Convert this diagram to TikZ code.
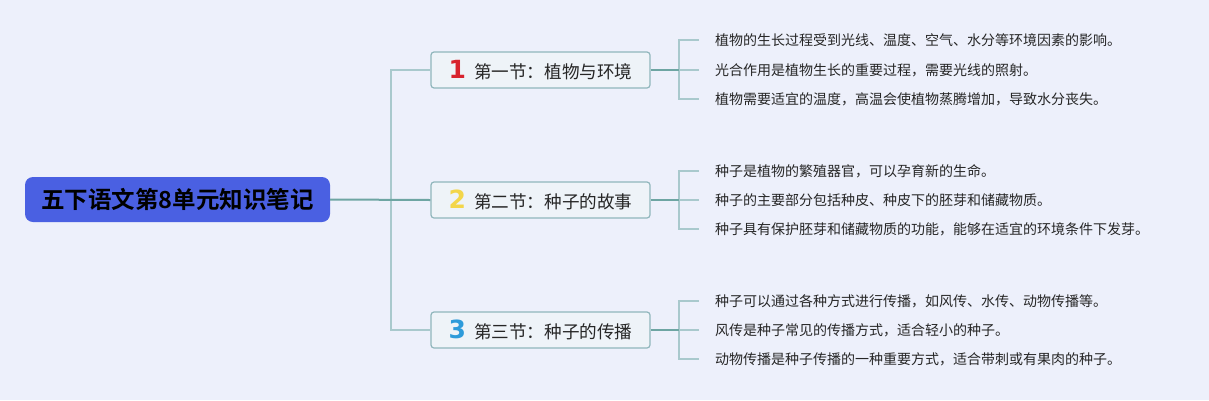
\documentclass[tikz,border=0pt]{standalone}
\usepackage{fontspec}
\newfontfamily\cjk{Noto Sans CJK SC}[BoldFont={Noto Sans CJK SC Bold}]
\newfontfamily\numfont{DejaVu Sans}
\definecolor{bgcol}{HTML}{EDF0FB}
\definecolor{rootcol}{HTML}{4A60E2}
\definecolor{boxcol}{HTML}{EEF3F8}
\definecolor{boxline}{HTML}{90B6BC}
\definecolor{linedark}{HTML}{6EA5A3}
\definecolor{linelight}{HTML}{A9C9CD}
\definecolor{numred}{HTML}{D8232E}
\definecolor{numyellow}{HTML}{F3D64A}
\definecolor{numblue}{HTML}{2E9BDA}
\tikzset{
  rootbox/.style={rectangle,rounded corners=8pt,fill=rootcol,minimum width=305pt,minimum height=45pt,font=\cjk\bfseries\fontsize{23.5}{26}\selectfont},
  secbox/.style={rectangle,rounded corners=3pt,draw=boxline,line width=1.2pt,fill=boxcol,minimum width=219pt,minimum height=36pt,font=\cjk\fontsize{17.6}{20}\selectfont,text=black!85},
  leaf/.style={anchor=west,inner xsep=0pt,font=\cjk\fontsize{14}{16}\selectfont,text=black!85},
  main/.style={linedark,line width=2pt},
  side/.style={linelight,line width=1.8pt},
}
\newcommand{\secnum}[2]{{\numfont\bfseries\fontsize{25}{25}\selectfont\color{#1}#2}\hspace{8pt}}
\begin{document}
\begin{tikzpicture}[x=1pt,y=-1pt]
\fill[bgcol] (0,0) rectangle (1209,400);
\useasboundingbox (0,0) rectangle (1209,400);

\node[rootbox] (root) at (177.5,199.5) {五下语文第8单元知识笔记};

\node[secbox] (s1) at (540.5,70) {\secnum{numred}{1}第一节：植物与环境};
\node[secbox] (s2) at (540.5,200) {\secnum{numyellow}{2}第二节：种子的故事};
\node[secbox] (s3) at (540.5,330) {\secnum{numblue}{3}第三节：种子的传播};

\coordinate (hub) at (391,200);
\draw[side] (hub) |- (s1.west);
\draw[side] (hub) |- (s3.west);
\draw[main] (root.east) -- (s2.west);

\node[leaf] (a1) at (715,40) {植物的生长过程受到光线、温度、空气、水分等环境因素的影响。};
\node[leaf] (a2) at (715,70) {光合作用是植物生长的重要过程，需要光线的照射。};
\node[leaf] (a3) at (715,99) {植物需要适宜的温度，高温会使植物蒸腾增加，导致水分丧失。};

\node[leaf] (b1) at (715,171) {种子是植物的繁殖器官，可以孕育新的生命。};
\node[leaf] (b2) at (715,200) {种子的主要部分包括种皮、种皮下的胚芽和储藏物质。};
\node[leaf] (b3) at (715,229) {种子具有保护胚芽和储藏物质的功能，能够在适宜的环境条件下发芽。};

\node[leaf] (c1) at (715,301) {种子可以通过各种方式进行传播，如风传、水传、动物传播等。};
\node[leaf] (c2) at (715,330) {风传是种子常见的传播方式，适合轻小的种子。};
\node[leaf] (c3) at (715,359) {动物传播是种子传播的一种重要方式，适合带刺或有果肉的种子。};

\coordinate (j1) at (679,70);
\coordinate (j2) at (679,200);
\coordinate (j3) at (679,330);

\draw[side,shorten >=16pt] (j1) |- (a1.west);
\draw[side,shorten >=16pt] (j1) |- (a3.west);
\draw[side,shorten >=16pt] (j1) -- (a2.west);
\draw[main] (s1.east) -- (j1);

\draw[side,shorten >=16pt] (j2) |- (b1.west);
\draw[side,shorten >=16pt] (j2) |- (b3.west);
\draw[side,shorten >=16pt] (j2) -- (b2.west);
\draw[main] (s2.east) -- (j2);

\draw[side,shorten >=16pt] (j3) |- (c1.west);
\draw[side,shorten >=16pt] (j3) |- (c3.west);
\draw[side,shorten >=16pt] (j3) -- (c2.west);
\draw[main] (s3.east) -- (j3);
\end{tikzpicture}
\end{document}
